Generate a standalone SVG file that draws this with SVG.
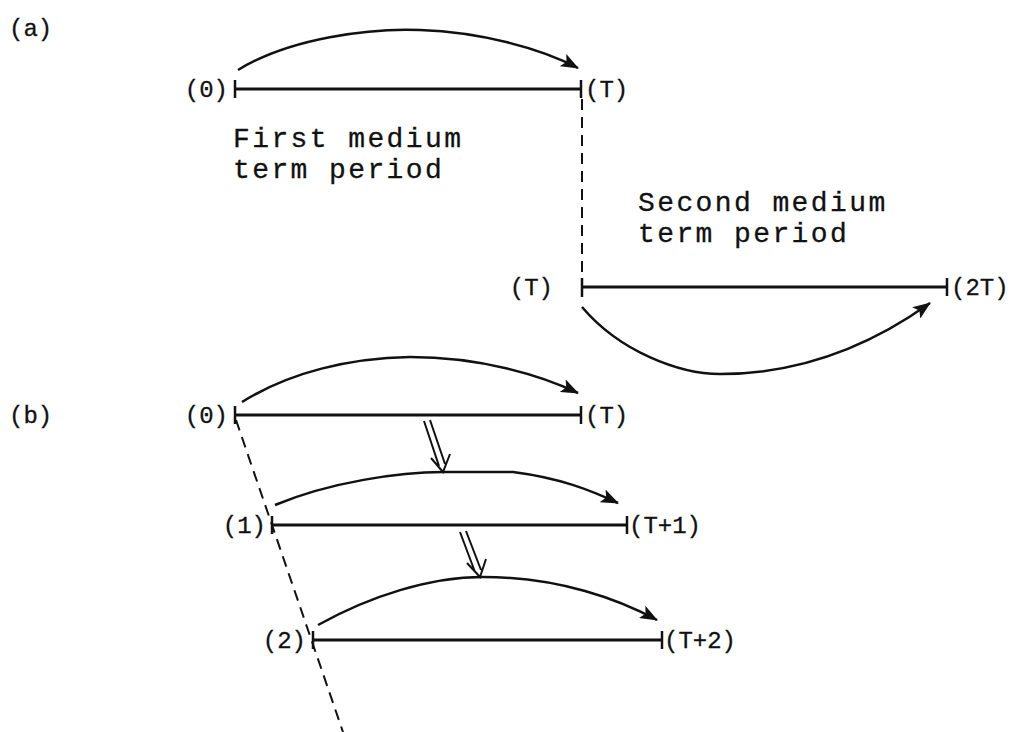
<svg xmlns="http://www.w3.org/2000/svg" width="1020" height="732" viewBox="0 0 1020 732">
<style>
.lbl{font-family:"Liberation Mono","Courier New",monospace;font-size:24px;fill:#111;stroke:#111;stroke-width:0.3}
.txt{font-family:"Liberation Mono","Courier New",monospace;font-size:28px;letter-spacing:2.4px;fill:#111;stroke:#111;stroke-width:0.3}
.bar{stroke:#111;stroke-width:3;fill:none}
.tick{stroke:#111;stroke-width:2.5}
.arc{stroke:#111;stroke-width:2.5;fill:none}
.dash{stroke:#111;stroke-width:2;fill:none;stroke-dasharray:11 7}
.dbl{stroke:#111;stroke-width:2;fill:none}
</style>
<defs>
<marker id="ah" markerWidth="18" markerHeight="14" refX="17" refY="7" orient="auto" markerUnits="userSpaceOnUse">
<path d="M0,0 L18,7 L0,14 L4,7 Z" fill="#111"/>
</marker>
</defs>
<rect width="1020" height="732" fill="#fff"/>

<text class="lbl" x="9" y="36">(a)</text>
<text class="lbl" x="9" y="423">(b)</text>

<g id="a-first">
<line class="bar" x1="235" y1="89" x2="581" y2="89"/>
<line class="tick" x1="235" y1="80" x2="235" y2="98"/>
<line class="tick" x1="581" y1="80" x2="581" y2="98"/>
<text class="lbl" x="228" y="97" text-anchor="end">(0)</text>
<text class="lbl" x="585" y="97">(T)</text>
<text class="txt" x="233" y="147">First medium</text>
<text class="txt" x="233" y="178">term period</text>
</g>

<g id="a-second">
<line class="bar" x1="582" y1="287" x2="947" y2="287"/>
<line class="tick" x1="582" y1="278" x2="582" y2="297"/>
<line class="tick" x1="947" y1="278" x2="947" y2="296"/>
<text class="lbl" x="553" y="295" text-anchor="end">(T)</text>
<text class="lbl" x="951" y="295">(2T)</text>
<text class="txt" x="638" y="211">Second medium</text>
<text class="txt" x="638" y="242">term period</text>
</g>

<g id="b-row0">
<line class="bar" x1="235" y1="415" x2="581" y2="415"/>
<line class="tick" x1="235" y1="406" x2="235" y2="424"/>
<line class="tick" x1="581" y1="406" x2="581" y2="424"/>
<text class="lbl" x="228" y="423" text-anchor="end">(0)</text>
<text class="lbl" x="585" y="423">(T)</text>
</g>

<g id="b-row1">
<line class="bar" x1="272" y1="525" x2="627" y2="525"/>
<line class="tick" x1="272" y1="516" x2="272" y2="534"/>
<line class="tick" x1="627" y1="516" x2="627" y2="534"/>
<text class="lbl" x="266" y="533" text-anchor="end">(1)</text>
<text class="lbl" x="629" y="533">(T+1)</text>
</g>

<g id="b-row2">
<line class="bar" x1="313" y1="640" x2="662" y2="640"/>
<line class="tick" x1="313" y1="631" x2="313" y2="649"/>
<line class="tick" x1="662" y1="631" x2="662" y2="649"/>
<text class="lbl" x="306" y="648" text-anchor="end">(2)</text>
<text class="lbl" x="664" y="648">(T+2)</text>
</g>

<g id="connectors">
<path class="arc" marker-end="url(#ah)" d="M238,70 C290,38 370,28 420,30 C480,32 540,48 578,68"/>
<path class="arc" marker-end="url(#ah)" d="M582,307 C620,352 680,374 720,374 C800,374 870,346 930,303"/>
<path class="arc" marker-end="url(#ah)" d="M242,402 C290,372 350,358 410,357 C480,357 540,375 578,393"/>
<path class="arc" marker-end="url(#ah)" d="M275,505 C330,482 400,472 443,472 L513,472 C560,478 590,490 618,503"/>
<path class="arc" marker-end="url(#ah)" d="M318,625 C370,596 430,577 483,577 C560,577 620,600 657,620"/>
<line class="dash" x1="582" y1="99" x2="582" y2="280"/>
<line class="dash" x1="236" y1="420" x2="343" y2="732"/>
<path class="dbl" d="M424,421 L439,466 M430,420 L445,464 M431,458 L443,472 L450,454"/>
<path class="dbl" d="M460,532 L475,572 M466,531 L481,570 M467,563 L480,577 L486,559"/>
</g>
</svg>
